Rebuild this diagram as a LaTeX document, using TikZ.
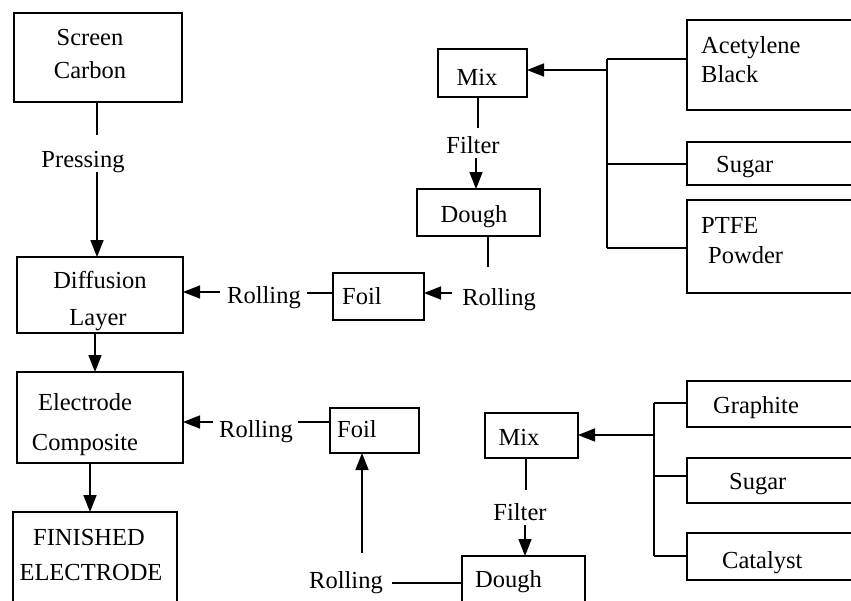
\documentclass[tikz,border=0pt]{standalone}
\usepackage{fontspec}
\setmainfont{Liberation Serif}
\usetikzlibrary{arrows.meta}
\newcommand\mkbox[5]{\node[boxst,minimum width={(#4)-(#2)},minimum height={(#5)-(#3)}] (#1) at ({((#2)+(#4))/2},{((#3)+(#5))/2}) {};}
\begin{document}
\begin{tikzpicture}[x=1pt,y=-1pt,
  boxst/.style={draw, line width=1.6pt, rectangle, inner sep=0pt, outer sep=0pt},
  lbl/.style={inner sep=0pt, anchor=base, font=\fontsize{24.5}{30}\selectfont},
  lbll/.style={lbl, anchor=base west},
  ln/.style={line width=1.6pt},
  arr/.style={line width=1.6pt, -{Triangle[length=17pt,width=13pt]}},
]
\useasboundingbox (0,0) rectangle (851,600);
\clip (0,0) rectangle (851,600);

% ---- boxes ----
\mkbox{sc}{14}{13}{182}{102}
\mkbox{dl}{17}{257}{183}{333}
\mkbox{ec}{17}{372}{183}{463}
\mkbox{fe}{13}{512}{177}{640}
\mkbox{foila}{333}{273}{424}{320}
\mkbox{dougha}{417}{189}{540}{236}
\mkbox{mixa}{438}{49}{527}{97}
\mkbox{ab}{687}{20}{900}{110}
\mkbox{suga}{687}{142}{900}{185}
\mkbox{ptfe}{687}{200}{900}{293}
\mkbox{foilb}{330}{408}{419}{453}
\mkbox{mixb}{485}{413}{578}{458}
\mkbox{doughb}{462}{556}{585}{640}
\mkbox{gr}{687}{381}{900}{427}
\mkbox{sugb}{687}{458}{900}{503}
\mkbox{cat}{687}{533}{900}{580}

% ---- texts ----
\node[lbl] (t-scr) at (90,45) {Screen};
\node[lbl] (t-car) at (90,78) {Carbon};
\node[lbl] (t-pre) at (83,167) {Pressing};
\node[lbl] (t-dif) at (100,288) {Diffusion};
\node[lbl] (t-lay) at (98,325) {Layer};
\node[lbl] (t-ele) at (85,410) {Electrode};
\node[lbl] (t-com) at (85,450) {Composite};
\node[lbl] (t-fin) at (89,545) {FINISHED};
\node[lbl] (t-elc) at (91,580) {ELECTRODE};
\node[lbl] (t-rol1) at (264,303) {Rolling};
\node[lbll] (t-foa) at (342,304) {Foil};
\node[lbl] (t-rol2) at (499,305) {Rolling};
\node[lbl] (t-doa) at (474,222) {Dough};
\node[lbl] (t-mia) at (477,85) {Mix};
\node[lbl] (t-fia) at (473,153) {Filter};
\node[lbll] (t-ace) at (701,53) {Acetylene};
\node[lbll] (t-bla) at (701,82) {Black};
\node[lbll] (t-sua) at (716,172) {Sugar};
\node[lbll] (t-ptf) at (701,233) {PTFE};
\node[lbll] (t-pow) at (708,263) {Powder};
\node[lbl] (t-rol3) at (256,437) {Rolling};
\node[lbll] (t-fob) at (337,437) {Foil};
\node[lbl] (t-mib) at (519,445) {Mix};
\node[lbl] (t-fib) at (520,520) {Filter};
\node[lbl] (t-rol4) at (346,588) {Rolling};
\node[lbll] (t-dob) at (475,587) {Dough};
\node[lbll] (t-gra) at (713,413) {Graphite};
\node[lbll] (t-sub) at (729,489) {Sugar};
\node[lbll] (t-cat) at (722,568) {Catalyst};

% ---- left column ----
\coordinate (p1) at (97,135);
\coordinate (p2) at (97,172);
\draw[ln] (p1 |- sc.south) -- (p1);
\draw[arr] (p2) -- (p2 |- dl.north);
\coordinate (q1) at (95,0);
\draw[arr] (q1 |- dl.south) -- (q1 |- ec.north);
\coordinate (q2) at (90,0);
\draw[arr] (q2 |- ec.south) -- (q2 |- fe.north);

% ---- upper chain ----
\coordinate (b1) at (607,70);
\coordinate (b1t) at (607,59);
\coordinate (b1m) at (607,164);
\coordinate (b1b) at (607,248);
\draw[ln] (b1t) -- (b1b);
\draw[ln] (b1t) -- (b1t -| ab.west);
\draw[ln] (b1m) -- (b1m -| suga.west);
\draw[ln] (b1b) -- (b1b -| ptfe.west);
\draw[arr] (b1) -- (b1 -| mixa.east);

\coordinate (f1) at (478,128);
\draw[ln] (f1 |- mixa.south) -- (f1);
\coordinate (f2) at (476,158);
\draw[arr] (f2) -- (f2 |- dougha.north);
\coordinate (d1) at (488,267);
\draw[ln] (d1 |- dougha.south) -- (d1);

\coordinate (r1) at (452,293);
\draw[arr] (r1) -- (r1 -| foila.east);
\coordinate (r2) at (307,293);
\draw[ln] (r2 -| foila.west) -- (r2);
\coordinate (r3) at (220,292);
\draw[arr] (r3) -- (r3 -| dl.east);

% ---- lower chain ----
\coordinate (b2) at (654,435);
\coordinate (b2t) at (654,403);
\coordinate (b2m) at (654,476);
\coordinate (b2b) at (654,556);
\draw[ln] (b2t) -- (b2b);
\draw[ln] (b2t) -- (b2t -| gr.west);
\draw[ln] (b2m) -- (b2m -| sugb.west);
\draw[ln] (b2b) -- (b2b -| cat.west);
\draw[arr] (b2) -- (b2 -| mixb.east);

\coordinate (g1) at (526,490);
\draw[ln] (g1 |- mixb.south) -- (g1);
\coordinate (g2) at (525,525);
\draw[arr] (g2) -- (g2 |- doughb.north);

\coordinate (s1) at (392,583);
\draw[ln] (s1) -- (s1 -| doughb.west);
\coordinate (s2) at (362,553);
\draw[arr] (s2) -- (s2 |- foilb.south);
\coordinate (s3) at (298,422);
\draw[ln] (s3 -| foilb.west) -- (s3);
\coordinate (s4) at (213,422);
\draw[arr] (s4) -- (s4 -| ec.east);
\end{tikzpicture}
\end{document}
